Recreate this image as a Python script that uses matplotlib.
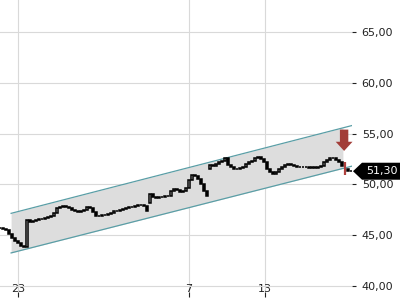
import matplotlib
matplotlib.use("Agg")
import matplotlib.pyplot as plt
from matplotlib.patches import Polygon
from matplotlib.transforms import IdentityTransform
from matplotlib.ticker import FuncFormatter

# intraday closes, one per bar
close = [45.69, 45.59, 45.49, 45.10, 44.71, 44.41, 44.22, 43.92, 43.82, 46.47,
         46.27, 46.37, 46.47, 46.57, 46.57, 46.67, 46.76, 46.86, 47.16, 47.65,
         47.75, 47.84, 47.75, 47.65, 47.45, 47.35, 47.25, 47.35, 47.45, 47.75,
         47.65, 47.25, 46.86, 46.86, 46.96, 46.96, 47.06, 47.16, 47.35, 47.35,
         47.45, 47.55, 47.65, 47.75, 47.75, 47.84, 47.94, 47.94, 47.84, 47.35,
         49.02, 48.73, 48.63, 48.73, 48.73, 48.82, 48.82, 49.31, 49.51, 49.41,
         49.22, 49.31, 49.61, 50.39, 50.88, 50.78, 50.49, 50.00, 49.31, 48.82,
         51.96, 51.86, 52.06, 52.16, 52.35, 52.65, 51.96, 51.67, 51.47, 51.47,
         51.57, 51.67, 52.06, 52.16, 52.35, 52.65, 52.75, 52.55, 52.25, 51.47,
         51.18, 50.98, 51.18, 51.47, 51.67, 51.96, 52.06, 51.96, 51.86, 51.76,
         51.76, 51.67, 51.67, 51.57, 51.67, 51.57, 51.67, 51.86, 52.25, 52.45,
         52.65, 52.65, 52.45, 52.16, 51.86, 51.47, 51.37, 51.30]
gap_open = {50: 48.14, 70: 51.47}   # session opens that gap away from prior close

signal_bar = 115
signal_low, signal_high = 50.88, 52.16
arrow_bar, arrow_top, arrow_tip = 114.7, 55.4, 53.3

chan_x = [3.7, 117.3]
chan_upper = [47.15, 55.8]
chan_lower = [43.25, 51.8]
fill_end = 114.3

last_price = 51.30
xtick_bars = [6, 63, 88.3]
xtick_labels = ["23", "7", "13"]
yticks = [40, 45, 50, 55, 60, 65]

fig = plt.figure(figsize=(4, 3), dpi=100)
ax = fig.add_axes([0, 8 / 300, 352 / 400, 292 / 300])
ax.set_xlim(0, 117.33)
ax.set_ylim(39.4, 68.17)

# channel
slope_u = (chan_upper[1] - chan_upper[0]) / (chan_x[1] - chan_x[0])
slope_l = (chan_lower[1] - chan_lower[0]) / (chan_x[1] - chan_x[0])
fx = [chan_x[0], fill_end]
ax.fill_between(fx, [chan_lower[0], chan_lower[0] + slope_l * (fill_end - chan_x[0])],
                [chan_upper[0], chan_upper[0] + slope_u * (fill_end - chan_x[0])],
                color="#dddddd", lw=0, zorder=1)
ax.plot(chan_x, chan_upper, color="#5a9ea6", lw=0.9, zorder=2)
ax.plot(chan_x, chan_lower, color="#5a9ea6", lw=0.9, zorder=2)

# candles
for i, c in enumerate(close):
    o = gap_open.get(i, close[i - 1] if i > 0 else c)
    if i == signal_bar:
        ax.vlines(i, signal_low, signal_high, color="#b0413e", lw=1.6, zorder=4)
        continue
    up = c >= o
    ax.bar(i, abs(c - o), bottom=min(o, c), width=0.75,
           color="white" if up else "black", edgecolor="black", lw=1.1, zorder=3)

# sell arrow
ax.annotate("", xy=(arrow_bar, arrow_tip), xytext=(arrow_bar, arrow_top),
            arrowprops=dict(arrowstyle="simple,head_length=0.6,head_width=1.1,tail_width=0.55",
                            fc="#a23d38", ec="none", mutation_scale=11,
                            shrinkA=0, shrinkB=0), zorder=5)

for s in ax.spines.values():
    s.set_visible(False)
ax.grid(True, color="#d9d9d9", lw=0.8)
ax.set_axisbelow(True)
ax.yaxis.tick_right()
ax.set_yticks(yticks)
ax.yaxis.set_major_formatter(FuncFormatter(lambda v, _: f"{v:.2f}".replace(".", ",")))
ax.set_xticks(xtick_bars)
ax.set_xticklabels(xtick_labels)
ax.tick_params(axis="y", length=3, width=0.8, pad=4, labelsize=8, color="#222", labelcolor="#222")
ax.tick_params(axis="x", length=3.5, width=0.8, pad=-9.5, labelsize=8, color="#222", labelcolor="#222")

# last price tag
fig.canvas.draw()
x0 = ax.transAxes.transform((1, 0))[0]
y0 = ax.transData.transform((0, last_price))[1]
tag = Polygon([(x0 + 1, y0), (x0 + 10, y0 + 8.5), (400, y0 + 8.5), (400, y0 - 8.5), (x0 + 10, y0 - 8.5)],
              closed=True, fc="black", ec="none", transform=IdentityTransform(), zorder=10)
fig.add_artist(tag)
fig.text(x0 + 14, y0, f"{last_price:.2f}".replace(".", ","), color="white", fontsize=8,
         va="center", ha="left", transform=IdentityTransform(), zorder=11)

fig.savefig("out.png", dpi=100)
